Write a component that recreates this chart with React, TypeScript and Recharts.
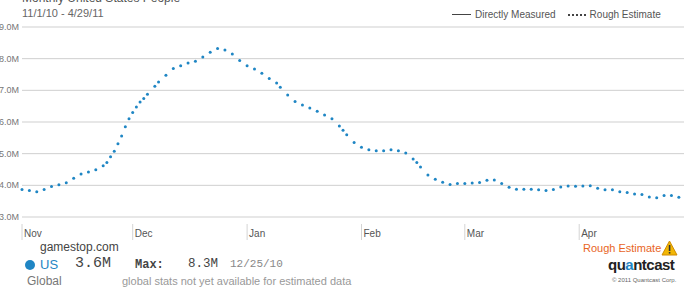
import { CartesianGrid, Line, LineChart, XAxis, YAxis } from "recharts";

// days counted from 11/1/10, values in millions of people
const dayOffsets = [
    0, 2, 4, 6, 8, 10, 12, 14, 16, 18, 20, 22, 23, 24, 25, 26, 27, 28, 29, 30,
    31, 32, 33, 34, 36, 37, 39, 41, 43, 45, 47, 49, 51, 53, 55, 57, 59, 61, 63,
    65, 67, 69, 70, 72, 74, 76, 78, 80, 82, 84, 86, 87, 88, 90, 92, 94, 96, 98,
    100, 102, 104, 106, 107, 108, 110, 112, 114, 116, 118, 120, 122, 124, 126,
    128, 130, 132, 134, 136, 138, 140, 142, 144, 146, 148, 150, 152, 154, 156,
    158, 160, 162, 164, 166, 168, 170, 172, 174, 176, 178,
];
const peopleM = [
    3.87, 3.84, 3.8, 3.87, 3.96, 4.02, 4.08, 4.22, 4.36, 4.42, 4.49, 4.62, 4.72,
    4.9, 5.08, 5.31, 5.56, 5.85, 6.1, 6.3, 6.47, 6.63, 6.74, 6.88, 7.13, 7.26,
    7.48, 7.69, 7.78, 7.86, 7.92, 8.05, 8.2, 8.32, 8.27, 8.15, 7.94, 7.78, 7.67,
    7.54, 7.37, 7.23, 7.1, 6.85, 6.65, 6.54, 6.44, 6.34, 6.22, 6.1, 5.87, 5.74,
    5.6, 5.35, 5.2, 5.12, 5.09, 5.09, 5.12, 5.09, 5.02, 4.83, 4.72, 4.58, 4.33,
    4.19, 4.1, 4.03, 4.06, 4.06, 4.07, 4.09, 4.16, 4.17, 4.06, 3.94, 3.88, 3.88,
    3.88, 3.86, 3.84, 3.87, 3.95, 3.98, 3.97, 3.98, 3.99, 3.91, 3.86, 3.86, 3.8,
    3.77, 3.73, 3.71, 3.63, 3.61, 3.68, 3.68, 3.62,
];
const monthStarts = [0, 30, 61, 92, 120, 151];
const monthLabels = ["Nov", "Dec", "Jan", "Feb", "Mar", "Apr"];
const yTicks = [3, 4, 5, 6, 7, 8, 9];

const data = dayOffsets.map((day, i) => ({ day, people: peopleM[i] }));

const FONT = "'Liberation Sans', Arial, sans-serif";
const MONO = "'Liberation Mono', 'DejaVu Sans Mono', monospace";
const BLUE = "#1f86c4";

function MonthTick(props: any) {
    const { x, y, payload } = props;
    const idx = monthStarts.indexOf(payload.value);
    return (
        <g>
            <line x1={x} x2={x} y1={y - 1} y2={y + 15} stroke="#d4d4d4" />
            <text x={x + 2} y={y + 12} fontSize={10} fill="#555" fontFamily={FONT}>
                {monthLabels[idx]}
            </text>
        </g>
    );
}

function ValueTick(props: any) {
    const { y, payload } = props;
    return (
        <text x={19} y={y + 3} fontSize={9} fill="#777" textAnchor="end" fontFamily={FONT}>
            {payload.value.toFixed(1)}M
        </text>
    );
}

function Dot(props: any) {
    const { cx, cy } = props;
    if (cx == null || cy == null) return null;
    return <circle cx={cx} cy={cy} r={1.5} fill={BLUE} />;
}

export default function App() {
    const abs = (style: React.CSSProperties) => ({ position: "absolute" as const, whiteSpace: "nowrap" as const, ...style });
    return (
        <div style={{ position: "fixed", left: 0, top: 0, width: 690, height: 289, background: "#fff", overflow: "hidden", fontFamily: FONT }}>
            <LineChart
                width={690}
                height={289}
                data={data}
                margin={{ top: 27, right: 6, bottom: 56, left: 0 }}
            >
                <CartesianGrid vertical={false} stroke="#cfcfcf" />
                <XAxis
                    dataKey="day"
                    type="number"
                    domain={[0, 179.4]}
                    ticks={monthStarts}
                    axisLine={false}
                    tickLine={false}
                    height={16}
                    tick={<MonthTick />}
                    interval={0}
                />
                <YAxis
                    type="number"
                    domain={[3, 9]}
                    ticks={yTicks}
                    width={22}
                    axisLine={false}
                    tickLine={false}
                    tick={<ValueTick />}
                    interval={0}
                />
                <Line
                    type="linear"
                    dataKey="people"
                    stroke="none"
                    dot={<Dot />}
                    activeDot={false}
                    isAnimationActive={false}
                />
            </LineChart>

            <div style={abs({ left: 22, top: -9, fontSize: 12, color: "#555" })}>
                Monthly United States People
            </div>
            <div style={abs({ left: 22, top: 7, fontSize: 11, color: "#666" })}>
                11/1/10 - 4/29/11
            </div>
            <div style={abs({ left: 452, top: 9, fontSize: 10, color: "#555", display: "flex", alignItems: "center" })}>
                <span style={{ display: "inline-block", width: 19, borderTop: "1px solid #444", marginRight: 4 }} />
                <span>Directly Measured</span>
                <span style={{ display: "inline-block", width: 18, borderTop: "2px dotted #444", marginLeft: 12, marginRight: 4 }} />
                <span>Rough Estimate</span>
            </div>

            <div style={abs({ left: 40, top: 240, fontSize: 12, color: "#444" })}>gamestop.com</div>
            <div style={abs({ left: 25, top: 260, width: 10, height: 10, borderRadius: 5, background: BLUE })} />
            <div style={abs({ left: 40, top: 257, fontSize: 13, color: BLUE })}>US</div>
            <div style={abs({ left: 75, top: 255, fontSize: 15, color: "#444", fontFamily: MONO })}>3.6M</div>
            <div style={abs({ left: 135, top: 258, fontSize: 12, color: "#444", fontFamily: MONO, fontWeight: "bold" })}>Max:</div>
            <div style={abs({ left: 188, top: 257, fontSize: 12.5, color: "#444", fontFamily: MONO })}>8.3M</div>
            <div style={abs({ left: 230, top: 258, fontSize: 11, color: "#888", fontFamily: MONO })}>12/25/10</div>
            <div style={abs({ left: 27, top: 274, fontSize: 12, color: "#777" })}>Global</div>
            <div style={abs({ left: 122, top: 275, fontSize: 11, color: "#999" })}>
                global stats not yet available for estimated data
            </div>

            <div style={abs({ left: 583, top: 242, fontSize: 11, color: "#e8651e" })}>Rough Estimate</div>
            <svg style={{ position: "absolute", left: 661, top: 240 }} width={17} height={16}>
                <polygon points="8.5,1 16,15 1,15" fill="#f2b705" stroke="#d08a00" />
                <rect x={7.8} y={5} width={1.6} height={6} fill="#333" />
                <rect x={7.8} y={12} width={1.6} height={1.6} fill="#333" />
            </svg>
            <div style={abs({ left: 608, top: 256, fontSize: 15, color: "#222", fontWeight: "bold", letterSpacing: -0.5 })}>
                qu<span style={{ color: "#1f86c4" }}>a</span>ntcast
            </div>
            <div style={abs({ left: 612, top: 277, fontSize: 6, color: "#666" })}>© 2011 Quantcast Corp.</div>
        </div>
    );
}
